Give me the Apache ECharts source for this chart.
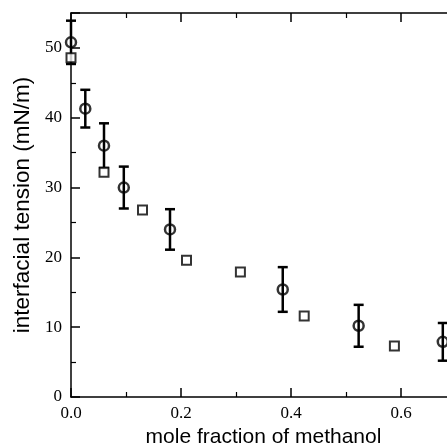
<!DOCTYPE html>
<html>
<head>
<meta charset="utf-8">
<script src="https://cdn.jsdelivr.net/npm/echarts@6/dist/echarts.min.js"></script>
<style>
html,body{margin:0;padding:0;background:#fff;}
#c{width:447px;height:448px;}
</style>
</head>
<body>
<div id="c"></div>
<script>
// Data
var circleX = [0.0, 0.026, 0.060, 0.096, 0.180, 0.385, 0.523, 0.676];
var circleY = [50.8, 41.3, 36.0, 30.0, 24.0, 15.4, 10.2, 7.9];
var circleErr = [3.1, 2.7, 3.2, 3.0, 2.9, 3.2, 3.0, 2.7];
var squareX = [0.0, 0.060, 0.130, 0.210, 0.308, 0.424, 0.588];
var squareY = [48.6, 32.2, 26.8, 19.6, 17.9, 11.6, 7.3];
var xTicks = ['0.0', '0.2', '0.4', '0.6'];
var yTicks = ['0', '10', '20', '30', '40', '50'];

var circleData = circleX.map(function (x, i) { return [x, circleY[i]]; });
var errData = circleX.map(function (x, i) { return [x, circleY[i], circleErr[i]]; });
var squareData = squareX.map(function (x, i) { return [x, squareY[i]]; });

var chart = echarts.init(document.getElementById('c'), null, {renderer: 'canvas'});

var axisLineStyle = {color: '#000', width: 1.5};
function xLabel(v) {
  var s = v.toFixed(1);
  return xTicks.indexOf(s) >= 0 ? s : '';
}
function yLabel(v) {
  var s = String(Math.round(v));
  return (Math.abs(v - Math.round(v)) < 1e-6 && yTicks.indexOf(s) >= 0) ? s : '';
}
var labelFont = {color: '#000', fontFamily: 'Liberation Serif', fontSize: 17};
var tick = {inside: true, length: 9, lineStyle: {color: '#000', width: 1.5}};
var minor = {show: true, splitNumber: 2, length: 5, lineStyle: {color: '#000', width: 1.2}};

chart.setOption({
  animation: false,
  backgroundColor: '#fff',
  grid: {left: 71, top: 13, width: 385, height: 384, containLabel: false, outerBoundsMode: 'none'},
  xAxis: [{
    type: 'value', min: 0, max: 0.7, interval: 0.2, position: 'bottom',
    name: 'mole fraction of methanol', nameLocation: 'middle', nameGap: 25,
    nameTextStyle: {color: '#000', fontFamily: 'Liberation Sans', fontSize: 21},
    axisLine: {onZero: false, lineStyle: axisLineStyle},
    axisTick: tick, minorTick: minor,
    axisLabel: Object.assign({margin: 8, formatter: xLabel, showMaxLabel: false}, labelFont),
    splitLine: {show: false}
  }, {
    type: 'value', min: 0, max: 0.7, interval: 0.2, position: 'top',
    axisLine: {onZero: false, lineStyle: axisLineStyle},
    axisTick: tick, minorTick: minor,
    axisLabel: {show: false},
    splitLine: {show: false}
  }],
  yAxis: [{
    type: 'value', min: 0, max: 55, interval: 10, position: 'left',
    name: 'interfacial tension (mN/m)', nameLocation: 'middle', nameGap: 36,
    nameTextStyle: {color: '#000', fontFamily: 'Liberation Sans', fontSize: 22.5},
    axisLine: {onZero: false, lineStyle: axisLineStyle},
    axisTick: tick, minorTick: minor,
    axisLabel: Object.assign({margin: 9, formatter: yLabel, showMaxLabel: false}, labelFont),
    splitLine: {show: false}
  }, {
    type: 'value', min: 0, max: 55, interval: 10, position: 'right',
    axisLine: {onZero: false, lineStyle: axisLineStyle},
    axisTick: tick, minorTick: minor,
    axisLabel: {show: false},
    splitLine: {show: false}
  }],
  series: [{
    type: 'custom',
    xAxisIndex: 0, yAxisIndex: 0,
    data: errData,
    encode: {x: 0, y: 1},
    renderItem: function (params, api) {
      var x = api.value(0), y = api.value(1), e = api.value(2);
      var top = api.coord([x, y + e]);
      var bot = api.coord([x, y - e]);
      var hw = 5;
      var st = {stroke: '#000', lineWidth: 2.5, fill: null};
      return {
        type: 'group',
        children: [
          {type: 'line', shape: {x1: top[0], y1: top[1], x2: bot[0], y2: bot[1]}, style: st},
          {type: 'line', shape: {x1: top[0] - hw, y1: top[1], x2: top[0] + hw, y2: top[1]}, style: st},
          {type: 'line', shape: {x1: bot[0] - hw, y1: bot[1], x2: bot[0] + hw, y2: bot[1]}, style: st}
        ]
      };
    },
    z: 3
  }, {
    type: 'scatter', xAxisIndex: 0, yAxisIndex: 0,
    data: circleData, symbol: 'circle', symbolSize: 10, clip: false,
    itemStyle: {color: 'rgba(0,0,0,0)', borderColor: '#000', borderWidth: 2.5},
    z: 4
  }, {
    type: 'scatter', xAxisIndex: 0, yAxisIndex: 0,
    data: squareData, symbol: 'rect', symbolSize: 9, clip: false,
    itemStyle: {color: '#fff', borderColor: '#000', borderWidth: 2},
    z: 5
  }]
});
</script>
</body>
</html>
